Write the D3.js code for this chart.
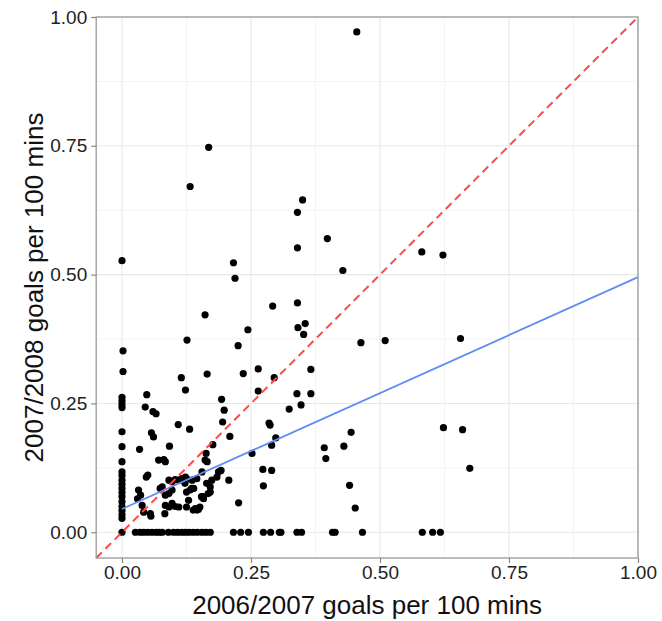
<!DOCTYPE html>
<html><head><meta charset="utf-8">
<script src="https://cdn.jsdelivr.net/npm/d3@7"></script>
<style>body{margin:0;background:#fff}svg{display:block}</style>
</head><body>
<script>
// goals per 100 mins, 2006/2007 (x) vs 2007/2008 (y)
const x0607 = [
0.455,0.168,0.132,0.350,0.340,0.398,0.340,0.581,0.622,0.000,0.216,0.219,0.428,
0.161,0.292,0.340,0.355,0.341,0.352,0.463,0.510,0.656,0.244,0.126,0.002,0.225,0.366,0.264,0.235,0.295,0.002,0.115,0.165,0.264,0.339,0.366,0.123,0.048,0.193,0.198,0.324,0.347,0.045,0.060,0.066,0.195,0.285,0.109,0.131,0.057,0.209,
0,0,0,0,0,0,0,0,0,0,0,0,0,0,0,0,0,0,0,0,
0.298,0.290,0.392,0.395,0.430,0.444,0.441,0.452,0.623,0.660,0.674,0.274,0.290,0.273,0.252,0.287,
0.034,0.061,0.092,0.071,0.081,0.084,0.047,0.050,0.032,0.036,0.030,0.039,0.042,0.055,0.056,0.074,0.078,0.084,0.091,0.097,0.091,0.097,0.103,0.110,0.116,0.084,0.091,0.097,0.103,0.110,0.083,0.129,0.125,0.142,0.145,0.132,0.139,0.123,0.126,0.136,0.145,0.155,0.161,0.165,0.174,0.171,0.158,0.157,0.187,0.192,0.184,0.207,0.226,0.176,0.163,0.164,0.167,0.151,0.148,0.138,0.171,0.154,0.122,0.125,0.135,
0.026,0.035,0.042,0.050,0.058,0.066,0.072,0.078,0.090,0.100,0.108,0.116,0.123,0.130,0.138,0.146,0.155,0.163,0.171,0.216,0.230,0.245,0.274,0.288,0.305,0.308,0.339,0.348,0.408,0.413,0.466,0.582,0.602,0.617
];
const y0708 = [
0.971,0.747,0.671,0.645,0.621,0.570,0.552,0.544,0.538,0.527,0.523,0.493,0.508,
0.422,0.439,0.445,0.405,0.397,0.384,0.368,0.372,0.376,0.393,0.373,0.352,0.362,0.316,0.317,0.308,0.300,0.312,0.300,0.307,0.274,0.269,0.269,0.276,0.267,0.258,0.237,0.239,0.247,0.243,0.234,0.230,0.214,0.212,0.209,0.200,0.193,0.186,
0.262,0.255,0.248,0.242,0.195,0.166,0.137,0.117,0.110,0.101,0.093,0.085,0.077,0.069,0.059,0.050,0.042,0.034,0.027,0.0,
0.183,0.169,0.164,0.143,0.167,0.194,0.091,0.047,0.203,0.199,0.124,0.090,0.120,0.122,0.153,0.208,
0.161,0.185,0.167,0.140,0.141,0.137,0.107,0.111,0.082,0.072,0.065,0.052,0.039,0.036,0.031,0.085,0.088,0.072,0.075,0.082,0.101,0.098,0.102,0.101,0.104,0.052,0.049,0.056,0.050,0.049,0.036,0.062,0.049,0.046,0.043,0.082,0.085,0.107,0.103,0.101,0.104,0.117,0.140,0.137,0.101,0.088,0.065,0.069,0.117,0.120,0.107,0.101,0.057,0.170,0.153,0.095,0.075,0.049,0.044,0.043,0.078,0.069,0.095,0.078,0.085,
0,0,0,0,0,0,0,0,0,0,0,0,0,0,0,0,0,0,0,0,0,0,0,0,0,0,0,0,0,0,0,0,0,0
];
const tickValues = [0, 0.25, 0.5, 0.75, 1.0];
const minorValues = [0.125, 0.375, 0.625, 0.875];
const lmIntercept = 0.045, lmSlope = 0.45;
const xTitle = "2006/2007 goals per 100 mins";
const yTitle = "2007/2008 goals per 100 mins";

const W = 662, H = 621;
const L = 96.2, R = 638, T = 17, B = 558;
const svg = d3.select("body").append("svg").attr("width", W).attr("height", H);
const x = d3.scaleLinear().domain([-0.05, 1]).range([L, R]);
const y = d3.scaleLinear().domain([-0.05, 1]).range([B, T]);

const g = svg.append("g");
// minor grid
g.selectAll(".mx").data(minorValues).join("line")
 .attr("x1", d => x(d)).attr("x2", d => x(d)).attr("y1", T).attr("y2", B)
 .attr("stroke", "#f4f4f4").attr("stroke-width", 1);
g.selectAll(".my").data(minorValues).join("line")
 .attr("y1", d => y(d)).attr("y2", d => y(d)).attr("x1", L).attr("x2", R)
 .attr("stroke", "#f4f4f4").attr("stroke-width", 1);
// major grid
g.selectAll(".gx").data(tickValues).join("line")
 .attr("x1", d => x(d)).attr("x2", d => x(d)).attr("y1", T).attr("y2", B)
 .attr("stroke", "#e8e8e8").attr("stroke-width", 1.1);
g.selectAll(".gy").data(tickValues).join("line")
 .attr("y1", d => y(d)).attr("y2", d => y(d)).attr("x1", L).attr("x2", R)
 .attr("stroke", "#e8e8e8").attr("stroke-width", 1.1);

// points
const pts = x0607.map((d, i) => [d, y0708[i]]);
svg.append("g").selectAll("circle").data(pts).join("circle")
 .attr("cx", d => x(d[0])).attr("cy", d => y(d[1])).attr("r", 3.6).attr("fill", "#000");

// y = x reference
svg.append("line")
 .attr("x1", x(-0.05)).attr("y1", y(-0.05)).attr("x2", x(1)).attr("y2", y(1))
 .attr("stroke", "#ff4848").attr("stroke-width", 2).attr("stroke-dasharray", "8,5");
// fit line
svg.append("line")
 .attr("x1", x(0)).attr("y1", y(lmIntercept)).attr("x2", x(1)).attr("y2", y(lmIntercept + lmSlope))
 .attr("stroke", "#5f8cf5").attr("stroke-width", 1.8);

// border
svg.append("rect").attr("x", L).attr("y", T).attr("width", R - L).attr("height", B - T)
 .attr("fill", "none").attr("stroke", "#999").attr("stroke-width", 1.3);

// axes
const fmt = d3.format(".2f");
const xa = svg.append("g").attr("transform", `translate(0,${B})`)
 .call(d3.axisBottom(x).tickValues(tickValues).tickFormat(fmt).tickSize(5).tickPadding(3));
const ya = svg.append("g").attr("transform", `translate(${L},0)`)
 .call(d3.axisLeft(y).tickValues(tickValues).tickFormat(fmt).tickSize(5).tickPadding(4));
[xa, ya].forEach(a => {
  a.select(".domain").remove();
  a.selectAll(".tick line").attr("stroke", "#888").attr("stroke-width", 1.2);
  a.selectAll(".tick text").attr("font-family", "Liberation Sans, Arial, sans-serif")
   .attr("font-size", 19).attr("fill", "#222");
});

svg.append("text").attr("x", (L + R) / 2).attr("y", 614).attr("text-anchor", "middle")
 .attr("font-family", "Liberation Sans, Arial, sans-serif").attr("font-size", 26).attr("fill", "#111")
 .text(xTitle);
svg.append("text").attr("transform", `translate(43,${(T + B) / 2}) rotate(-90)`).attr("text-anchor", "middle")
 .attr("font-family", "Liberation Sans, Arial, sans-serif").attr("font-size", 26).attr("fill", "#111")
 .text(yTitle);
</script>
</body></html>
